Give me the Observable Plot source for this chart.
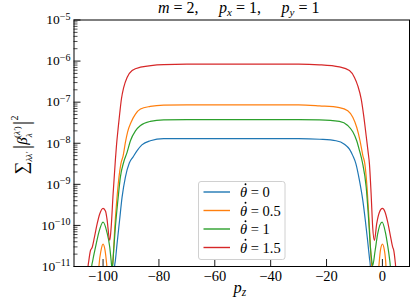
<!DOCTYPE html>
<html><head><meta charset="utf-8">
<script src="https://cdn.jsdelivr.net/npm/d3@7"></script>
<script src="https://cdn.jsdelivr.net/npm/@observablehq/plot@0.6"></script>
<style>
body{margin:0;background:#fff;}
#wrap{position:relative;width:411px;height:299px;}
</style></head><body><div id="wrap"></div>
<script>
// ---- data ----
const seriesNames = ["0", "0.5", "1", "1.5"];
const seriesColors = ["#1f77b4", "#ff7f0e", "#2ca02c", "#d62728"];

const pzBlue  = [-96.3,-95.9,-95.6,-95.0,-94.1,-93.2,-92.0,-90.6,-89.3,-87.8,-86.1,-83.1,-78.3,-70,-50,-30,-22.5,-16.6,-13.6,-11.8,-10.6,-9.5,-8.2,-7.0,-6.1,-5.3,-4.65,-4.3,-3.9];
const valBlue = [1e-12,9.5e-12,1.38e-11,3.5e-11,1.3e-10,4.8e-10,1.5e-9,3.3e-9,4.6e-9,6.6e-9,9.1e-9,1.15e-8,1.3e-8,1.3e-8,1.3e-8,1.3e-8,1.25e-8,1.15e-8,9.5e-9,7.2e-9,5.0e-9,3.2e-9,1.23e-9,4.0e-10,1.3e-10,4.3e-11,1.65e-11,9.5e-12,1e-12];

const pzOrange  = [-102.0,-101.5,-100.7,-100.0,-99.3,-98.6,-97.6,-96.7,-96.3,-95.8,-95.1,-94.3,-93.6,-92.8,-92.0,-91.2,-90.0,-88.4,-86.6,-83.1,-78.3,-70,-50,-30,-22.5,-15.4,-12.4,-10.6,-9.2,-8.0,-7.0,-6.3,-5.5,-4.9,-4.4,-4.0,-3.8,-3.4,-2.5,-1.3,-0.7,0.0,0.7,1.3,1.8];
const valOrange = [1e-12,9.5e-12,2.5e-11,3.5e-11,2.5e-11,9.5e-12,1e-12,9.5e-12,2.0e-11,8.9e-11,4.0e-10,1.5e-9,3.2e-9,5.0e-9,1.05e-8,1.9e-8,3.2e-8,5.1e-8,6.8e-8,7.9e-8,8.5e-8,8.6e-8,8.6e-8,8.6e-8,8.1e-8,7.4e-8,6.2e-8,4.3e-8,2.45e-8,1.15e-8,5.0e-9,3.2e-9,8.5e-10,1.9e-10,4.3e-11,1.38e-11,9.5e-12,1e-12,1e-12,9.5e-12,2.5e-11,3.5e-11,2.5e-11,9.5e-12,1e-12];

const pzGreen  = [-104.6,-104.1,-103.7,-102.7,-101.5,-100.0,-98.6,-97.6,-97.1,-96.8,-96.5,-96.2,-95.6,-94.7,-93.8,-92.6,-91.4,-90.2,-88.4,-86.6,-83.1,-78.3,-70,-50,-30,-22.5,-15.4,-12.4,-10.6,-9.2,-8.2,-7.15,-5.8,-4.9,-4.3,-3.8,-3.5,-2.6,-1.7,-0.1,1.07,1.9,2.5,2.86,3.3];
const valGreen = [1.6e-12,9.5e-12,1.38e-11,2.95e-11,6.8e-11,1.2e-10,6.8e-11,2.95e-11,1.38e-11,8.9e-12,1.15e-11,2.45e-11,8.9e-11,4.0e-10,1.5e-9,3.5e-9,6.0e-9,1.15e-8,2.0e-8,2.7e-8,3.4e-8,3.7e-8,3.75e-8,3.75e-8,3.75e-8,3.7e-8,3.4e-8,2.7e-8,1.9e-8,1.15e-8,6.6e-9,3.4e-9,8.5e-10,1.3e-10,2.95e-11,1.38e-11,1.05e-11,2.45e-11,6.2e-11,1.2e-10,6.8e-11,3.2e-11,1.65e-11,9.5e-12,1.6e-12];

const pzRed  = [-105.8,-105.4,-105.1,-104.5,-103.9,-103.1,-102.1,-101.2,-100.0,-99.1,-98.6,-97.6,-97.1,-96.4,-95.6,-95.2,-94.6,-94.0,-93.4,-92.6,-91.4,-89.6,-86.6,-78.3,-70,-50,-30,-22.5,-15.4,-11.8,-10.0,-8.8,-7.6,-6.7,-5.8,-5.1,-4.65,-4.04,-3.47,-2.86,-2.04,-1.07,0.0,0.97,1.9,2.86,3.68,4.04,4.54,4.76,5.1];
const valRed = [2.5e-12,9.5e-12,1.38e-11,2.45e-11,2.9e-11,5.1e-11,1.1e-10,1.9e-10,2.6e-10,2.2e-10,1.45e-10,4.3e-11,8.9e-11,5.9e-10,3.8e-9,8.7e-9,2.3e-8,5.6e-8,1.23e-7,2.3e-7,4.0e-7,5.9e-7,7.1e-7,8.2e-7,8.4e-7,8.4e-7,8.4e-7,8.1e-7,7.2e-7,5.9e-7,4.0e-7,2.5e-7,1.2e-7,4.7e-8,1.5e-8,6.0e-9,3.2e-9,5.9e-10,8.9e-11,4.3e-11,1.1e-10,2.1e-10,2.6e-10,2.1e-10,1.2e-10,5.6e-11,2.95e-11,2.5e-11,1.38e-11,9.5e-12,2.5e-12];

const yTicks = [1e-11, 1e-10, 1e-9, 1e-8, 1e-7, 1e-6, 1e-5];
const yTickBase = "10";
const yTickExps = ["\u221211", "\u221210", "\u22129", "\u22128", "\u22127", "\u22126", "\u22125"];
const xTicks = [-100, -80, -60, -40, -20, 0];
const xTickLabels = ["\u2212100", "\u221280", "\u221260", "\u221240", "\u221220", "0"];

// ---- build table ----
const pzs = [pzBlue, pzOrange, pzGreen, pzRed];
const vals = [valBlue, valOrange, valGreen, valRed];
const rows = [];
pzs.forEach((arr, s) => arr.forEach((p, i) => rows.push({s: seriesNames[s], pz: p, v: vals[s][i]})));
const minor = [];
for (let k = -11; k < -5; k++) for (let m = 2; m <= 9; m++) minor.push(m * Math.pow(10, k));

const W = 411, H = 299, mL = 73.5, mR = 2, mT = 19.5, mB = 33;
const fw = W - mL - mR, fh = H - mT - mB;
const serif = "Liberation Serif";

const chart = Plot.plot({
  width: W, height: H,
  marginLeft: mL, marginRight: mR, marginTop: mT, marginBottom: mB,
  style: {fontFamily: serif, fontSize: "13px", background: "white", color: "black"},
  x: {domain: [-110.4, 9.7]},
  y: {type: "log", domain: [1e-11, 1e-5]},
  color: {domain: seriesNames, range: seriesColors},
  marks: [
    Plot.line(rows, {x: "pz", y: "v", z: "s", stroke: "s", strokeWidth: 1.2, curve: "monotone-x", clip: true}),
    Plot.tickY(yTicks, {y: d => d, insetRight: fw - 7, stroke: "black", strokeWidth: 0.9}),
    Plot.tickY(minor, {y: d => d, insetRight: fw - 4, stroke: "black", strokeWidth: 0.7}),
    Plot.tickX(xTicks, {x: d => d, insetTop: fh - 7, stroke: "black", strokeWidth: 0.9}),
    Plot.axisY(yTicks, {tickSize: 0, tickPadding: 3.5, label: null, fontFamily: serif, fontSize: 13.5,
      tickFormat: d => yTickBase + "^" + yTickExps[yTicks.indexOf(d)]}),
    Plot.axisX(xTicks, {tickSize: 0, tickPadding: 4, label: null, fontFamily: serif, fontSize: 14.5,
      tickFormat: d => xTickLabels[xTicks.indexOf(d)]}),
    Plot.frame({stroke: "black", strokeWidth: 1})
  ]
});
document.getElementById("wrap").appendChild(chart);

const svg = d3.select(chart);
// y tick labels: base with raised exponent
svg.selectAll('g[aria-label="y-axis tick label"] text').each(function() {
  const s = this.textContent.split("^");
  const el = d3.select(this);
  el.text("");
  el.append("tspan").text(s[0]);
  el.append("tspan").attr("font-size", 10).attr("dy", "-0.45em").text(s[1]);
});

// title (three segments)
function titleSeg(x, sym, sub, rest) {
  const t = svg.append("text").attr("x", x).attr("y", 12.5).attr("text-anchor", "start")
    .attr("font-family", serif).attr("font-size", 16).attr("fill", "black");
  t.append("tspan").attr("font-style", "italic").text(sym);
  if (sub) t.append("tspan").attr("font-style", "italic").attr("font-size", 11).attr("dy", 3).text(sub);
  t.append("tspan").attr("dy", sub ? -3 : 0).text(rest);
}
titleSeg(158, "m", null, " = 2,");
titleSeg(219, "p", "x", " = 1,");
titleSeg(281.5, "p", "y", " = 1");

// x label
const xl = svg.append("text").attr("x", 233.5).attr("y", 293).attr("text-anchor", "start")
  .attr("font-family", serif).attr("font-size", 16.5).attr("fill", "black");
xl.append("tspan").attr("font-style", "italic").text("p");
xl.append("tspan").attr("font-style", "italic").attr("font-size", 11.5).attr("dy", 3).text("z");

// y label
const yl = svg.append("text").attr("transform", "translate(26.5,145) rotate(-90)").attr("text-anchor", "middle")
  .attr("font-family", serif).attr("font-size", 15).attr("fill", "black");
yl.append("tspan").attr("font-size", 18).text("\u2211");
yl.append("tspan").attr("font-style", "italic").attr("font-size", 9).attr("dy", 5).text("\u03BB\u03BB\u2032");
yl.append("tspan").attr("font-size", 23).attr("dy", -3).attr("dx", 2.5).text("|");
yl.append("tspan").attr("font-style", "italic").attr("font-size", 15).attr("dy", -2).text("\u03B2");
yl.append("tspan").attr("font-style", "italic").attr("font-size", 9).attr("dy", 5).text("\u03BB");
yl.append("tspan").attr("font-size", 9).attr("dy", -12).attr("dx", -4.8).text("(");
yl.append("tspan").attr("font-style", "italic").attr("font-size", 9).text("\u03BB\u2032");
yl.append("tspan").attr("font-size", 9).text(")");
yl.append("tspan").attr("font-size", 23).attr("dy", 9).attr("dx", 1).text("|");
yl.append("tspan").attr("font-size", 10).attr("dy", -11).text("2");

// legend
const lx = 198.5, ly = 181.5, lw = 86.5, lh = 78;
const lg = svg.append("g");
lg.append("rect").attr("x", lx).attr("y", ly).attr("width", lw).attr("height", lh)
  .attr("rx", 2.5).attr("fill", "white").attr("stroke", "#d0d0d0").attr("stroke-width", 1);
seriesNames.forEach((name, i) => {
  const cy = ly + 10.5 + i * 18.5;
  lg.append("line").attr("x1", lx + 5).attr("x2", lx + 31.5).attr("y1", cy).attr("y2", cy)
    .attr("stroke", seriesColors[i]).attr("stroke-width", 1.4);
  const tx = lg.append("text").attr("x", lx + 41.5).attr("y", cy + 5).attr("text-anchor", "start")
    .attr("font-family", serif).attr("font-size", 14.5).attr("fill", "black");
  tx.append("tspan").attr("font-style", "italic").text("\u03B8");
  tx.append("tspan").text(" = " + name);
  lg.append("circle").attr("cx", lx + 47).attr("cy", cy - 7.8).attr("r", 0.95).attr("fill", "black");
});
</script></body></html>
